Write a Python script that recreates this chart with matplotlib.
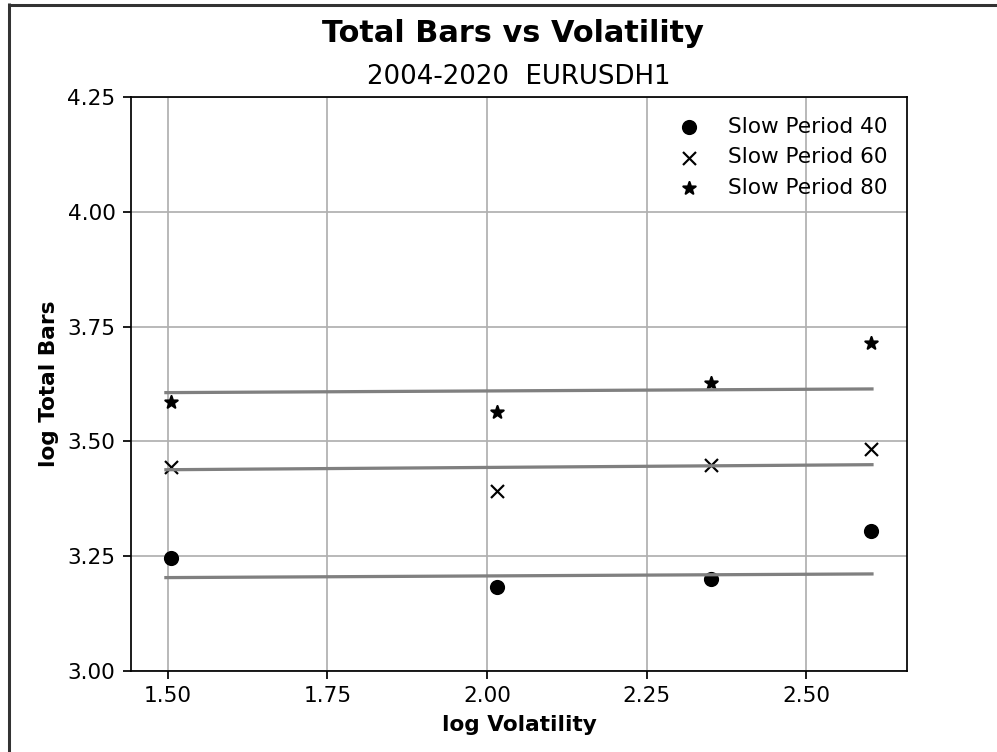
"""
Total bars vs volatility for three slow periods, log-log
"""

import numpy as np
import matplotlib
matplotlib.use('Agg')
import matplotlib.pyplot as plt
from matplotlib.lines import Line2D

# data
log_vol = [1.505, 2.015, 2.351, 2.602]
periods = [40, 60, 80]
bars_40 = [3.246, 3.183, 3.200, 3.305]
bars_60 = [3.444, 3.392, 3.449, 3.484]
bars_80 = [3.586, 3.564, 3.627, 3.715]
markers = ['o', 'x', '*']

# fitted lines: x range and values at both ends
fit_x = [1.497, 2.603]
fit_start = [3.203, 3.438, 3.606]
fit_end = [3.211, 3.449, 3.614]

plt.close('all')
fig, ax = plt.subplots(figsize=(997/156, 752/156), dpi=156)
fig.subplots_adjust(left=0.131, right=0.91, top=0.871, bottom=0.108)

for bars, p, m, y0, y1 in zip([bars_40, bars_60, bars_80], periods, markers,
                               fit_start, fit_end):
    lw = 1.0 if m == 'x' else None
    ax.scatter(log_vol, bars, marker=m, color='black', linewidths=lw,
               label='Slow Period '+str(p))
    ax.plot(fit_x, [y0, y1], color='grey', linewidth=1.5)

ax.set_ylim(3.0, 4.25)
ax.set_xticks([1.50, 1.75, 2.00, 2.25, 2.50])
ax.set_yticks([3.00, 3.25, 3.50, 3.75, 4.00, 4.25])
ax.xaxis.set_major_formatter(plt.FormatStrFormatter('%.2f'))
ax.yaxis.set_major_formatter(plt.FormatStrFormatter('%.2f'))
ax.grid(True)
ax.set_axisbelow(True)
ax.set_xlabel('log Volatility', fontweight='bold')
ax.set_ylabel('log Total Bars', fontweight='bold')
ax.set_title('2004-2020  EURUSDH1', fontsize=12)
fig.suptitle('Total Bars vs Volatility', fontsize=14, fontweight='bold',
             x=0.5145, y=0.975)
ax.legend(loc='upper right', frameon=False)

# dark frame on the top and left edge of the screenshot
fig.add_artist(Line2D([0.008, 1.0], [0.994, 0.994], transform=fig.transFigure,
                      color='#333333', linewidth=1.4, solid_capstyle='butt'))
fig.add_artist(Line2D([0.0095, 0.0095], [0.0, 0.996], transform=fig.transFigure,
                      color='#333333', linewidth=1.4, solid_capstyle='butt'))

plt.savefig('out.png', dpi=156)
